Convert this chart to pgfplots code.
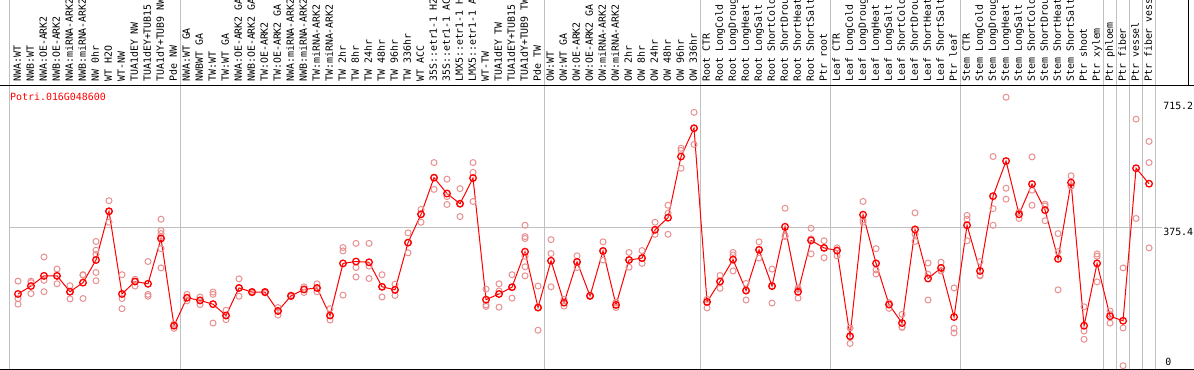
\documentclass[border=0pt]{standalone}
\usepackage{pgfplots}
\pgfplotsset{compat=1.18}
\usepackage{pgfplotstable}
\usepackage{fontspec}
\newfontfamily\monofont{DejaVu Sans Mono}
\newcommand{\lblfont}{\monofont\fontsize{9.96}{10}\selectfont}
\definecolor{repcol}{RGB}{232,144,144}
\definecolor{gridgray}{RGB}{192,192,192}

\pgfplotstableread{
x y
1 200
2 221
3 248
4 248
5 206
6 230
7 290
8 419
9 200
10 233
11 227
12 347
13 116
14 190
15 183
16 173
17 143
18 216
19 205
20 205
21 155
22 195
23 212
24 216
25 143
26 281
27 286
28 284
29 219
30 211
31 336
32 411
33 508
34 466
35 439
36 507
37 185
38 200
39 218
40 312
41 164
42 288
43 177
44 285
45 195
46 314
47 171
48 290
49 295
50 370
51 402
52 564
53 639
54 179
55 233
56 291
57 209
58 317
59 221
60 378
61 206
62 342
63 322
64 315
65 88
66 410
67 281
68 172
69 123
70 371
71 241
72 269
73 139
74 382
75 261
76 459
77 552
78 411
79 491
80 422
81 293
82 495
83 116
84 281
85 141
86 129
87 533
88 492
}\means

\pgfplotstableread{
x y
1 234
1 188
1 173
2 234
2 230
2 201
3 298
3 236
3 206
4 266
4 248
4 227
5 222
5 206
5 187
6 251
6 250
6 188
7 339
7 316
7 305
7 257
7 235
8 447
8 419
8 390
9 251
9 188
9 161
10 239
10 233
10 221
11 286
11 199
11 194
12 398
12 368
12 360
12 352
12 320
12 269
13 116
13 109
13 120
14 199
14 190
14 182
15 192
15 183
15 172
16 205
16 199
16 123
17 157
17 143
17 132
18 240
18 216
18 194
19 205
19 203
19 207
20 205
20 203
20 207
21 164
21 155
21 144
22 195
22 193
22 197
23 219
23 212
23 204
24 227
24 216
24 206
25 161
25 143
25 131
26 323
26 314
26 197
27 334
27 270
27 245
28 334
28 274
28 241
29 251
29 219
29 192
30 226
30 211
30 196
31 362
31 336
31 309
32 424
32 411
32 390
33 548
33 508
33 477
34 504
34 458
34 437
35 479
35 439
35 405
36 548
36 522
36 445
37 213
37 171
37 167
38 227
38 208
38 165
39 251
39 218
39 189
40 382
40 352
40 347
40 300
40 272
40 248
41 221
41 164
41 104
42 344
42 307
42 219
43 186
43 177
43 168
44 301
44 285
44 270
45 195
45 194
45 196
46 338
46 314
46 290
47 178
47 171
47 164
48 310
48 290
48 271
49 315
49 295
49 281
50 390
50 370
50 358
51 435
51 414
51 358
52 586
52 580
52 533
53 681
53 639
53 596
54 186
54 179
54 163
55 249
55 233
55 215
56 310
56 303
56 261
57 228
57 209
57 184
58 338
58 317
58 295
59 266
59 221
59 176
60 427
60 355
60 352
61 189
61 213
61 216
62 374
62 346
62 306
63 341
63 322
63 296
64 315
64 322
64 301
65 110
65 88
65 69
66 445
66 396
66 390
67 320
67 264
67 253
68 172
68 177
68 162
69 146
69 112
69 112
70 415
70 358
70 339
71 282
71 252
71 184
72 284
72 261
72 262
73 216
73 109
73 97
74 408
74 398
74 341
75 286
75 248
75 250
76 564
76 426
76 382
77 721
77 480
77 451
78 416
78 400
78 417
79 563
79 475
79 435
80 438
80 394
80 433
81 360
81 312
81 211
82 513
82 487
82 485
83 166
83 102
83 80
84 306
84 300
84 232
85 155
85 146
85 123
86 269
86 110
86 10
87 663
87 400
88 604
88 548
88 322
}\reps

\begin{document}
\begin{tikzpicture}
\useasboundingbox (0,0) rectangle (1194bp,370bp);
\clip (0,0) rectangle (1194bp,370bp);
\begin{axis}[
  at={(10bp,0.5bp)}, anchor=south west,
  scale only axis, width=1178bp, height=283.5bp,
  xmin=0.3846, xmax=91, ymin=0, ymax=750.8,
  axis line style={draw=none}, major tick length=0pt,
  clip=false,
  ytick=\empty,
  xtick={1,...,88},
  xticklabel pos=upper,
  xticklabel style={rotate=90, anchor=west, font=\lblfont, inner xsep=4bp, inner ysep=0pt, text height=7.5bp, text depth=2bp},
  xticklabels={{NWA:WT},{NWB:WT},{NWA:OE-ARK2},{NWB:OE-ARK2},{NWA:miRNA-ARK2},{NWB:miRNA-ARK2},{NW 0hr},{WT H2O},{WT-NW},{TUA1dEY NW},{TUA1dEY+TUB15},{TUA1dY+TUB9 NW},{Pde NW},{NWA:WT GA},{NWBWT GA},{TW:WT},{TW:WT GA},{NWA:OE-ARK2 GA},{NWB:OE-ARK2 GA},{TW:OE-ARK2},{TW:OE-ARK2 GA},{NWA:miRNA-ARK2},{NWB:miRNA-ARK2},{TW:miRNA-ARK2},{TW:miRNA-ARK2},{TW 2hr},{TW 8hr},{TW 24hr},{TW 48hr},{TW 96hr},{TW 336hr},{WT ACC},{35S::etr1-1 H2},{35S::etr1-1 AC},{LMX5::etr1-1 H},{LMX5::etr1-1 A},{WT-TW},{TUA1dEY TW},{TUA1dEY+TUB15},{TUA1dY+TUB9 TW},{Pde TW},{OW:WT},{OW:WT GA},{OW:OE-ARK2},{OW:OE-ARK2 GA},{OW:miRNA-ARK2},{OW:miRNA-ARK2},{OW 2hr},{OW 8hr},{OW 24hr},{OW 48hr},{OW 96hr},{OW 336hr},{Root CTR},{Root LongCold},{Root LongDroug},{Root LongHeat},{Root LongSalt},{Root ShortCold},{Root ShortDrou},{Root ShortHeat},{Root ShortSalt},{Ptr root},{Leaf CTR},{Leaf LongCold},{Leaf LongDroug},{Leaf LongHeat},{Leaf LongSalt},{Leaf ShortCold},{Leaf ShortDrou},{Leaf ShortHeat},{Leaf ShortSalt},{Ptr leaf},{Stem CTR},{Stem LongCold},{Stem LongDroug},{Stem LongHeat},{Stem LongSalt},{Stem ShortCold},{Stem ShortDrou},{Stem ShortHeat},{Stem ShortSalt},{Ptr shoot},{Ptr xylem},{Ptr phloem},{Ptr fiber},{Ptr vessel},{Ptr fiber vess}},
]
% separators and frame
\pgfplotsinvokeforeach{0.3846,13.5,41.5,53.5,63.5,73.5,84.5,85.5,86.5,87.5,88.5}{
  \draw[gridgray, line width=1bp] (axis cs:#1,0) -- (axis cs:#1,1000);
}
\draw[gridgray, line width=1bp] (axis cs:0.3846,375.4) -- (axis cs:89.0,375.4);
\draw[black, line width=1bp] (rel axis cs:-0.01,1) -- (rel axis cs:1.01,1);
\draw[black, line width=1bp] (rel axis cs:-0.01,0) -- (rel axis cs:1.01,0);
\draw[black, line width=1bp] (axis cs:91,750.8) -- (axis cs:91,1000);

\addplot[only marks, mark=o, mark size=3bp, mark options={draw=repcol, line width=1bp}] table[x=x,y=y]{\reps};
\addplot[red, line width=1bp, mark=o, mark size=3.3bp, mark options={draw=red, line width=1.3bp}] table[x=x,y=y]{\means};

\node[anchor=west, inner sep=0pt, text=red, font=\lblfont] at (rel axis cs:0,0.961) {Potri.016G048600};
\node[anchor=north west, inner sep=0pt, font=\lblfont, yshift=-2.5bp] at (axis cs:89.08,715.2) {715.2};
\node[anchor=north west, inner sep=0pt, font=\lblfont] at (axis cs:89.08,375.4) {375.4};
\node[anchor=south west, inner sep=0pt, font=\lblfont, yshift=4bp] at (axis cs:89.23,0) {0};
\end{axis}
\end{tikzpicture}
\end{document}
